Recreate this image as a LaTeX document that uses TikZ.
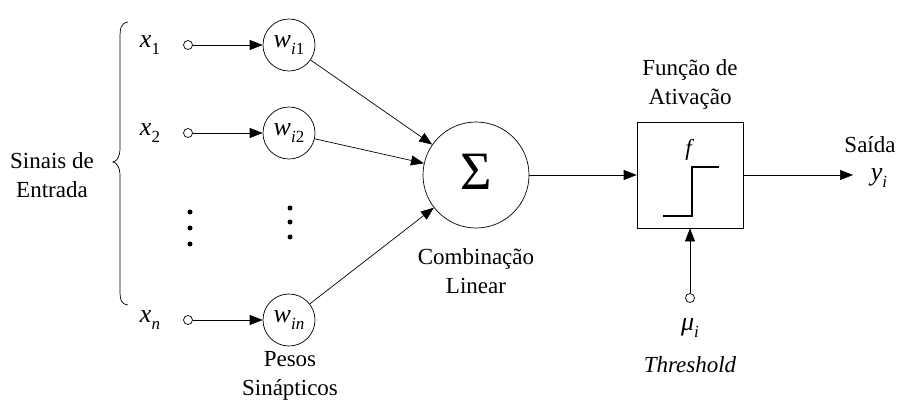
\documentclass[tikz,border=0pt]{standalone}
\usepackage{fontspec}
\setmainfont{Liberation Serif}
\usetikzlibrary{arrows.meta}
\newcommand{\vsub}[2]{{\fontsize{26}{26}\selectfont\textit{#1}}\raisebox{-0.3em}{\fontsize{17}{17}\selectfont #2}}
\begin{document}
\begin{tikzpicture}[x=1pt,y=-1pt,
  every node/.style={font=\fontsize{23}{29}\selectfont},
  conn/.style={line width=0.7pt,-{Triangle[length=13pt,width=10pt]}},
  term/.style={circle,draw,line width=0.7pt,inner sep=0pt,minimum size=9pt,fill=white},
  wnode/.style={circle,draw,line width=0.7pt,inner sep=0pt,minimum size=52pt},
  lbl/.style={align=center,inner sep=0pt},
  dot/.style={circle,fill=black,inner sep=0pt,minimum size=5pt}]
\useasboundingbox (0,0) rectangle (910,405);
% brace
\draw[line width=0.7pt] (128,22) .. controls (121,23) and (120,28) .. (120,38) -- (120,148)
  .. controls (120,157) and (117,161) .. (113,162)
  .. controls (117,163) and (120,167) .. (120,176) -- (120,290)
  .. controls (120,300) and (121,304) .. (128,305);
\node[lbl] (sinais) at (52,175) {Sinais de\\Entrada};
% inputs
\node[lbl] (lx1) at (150,45) {\vsub{x}{1}};
\node[lbl] (lx2) at (150,133) {\vsub{x}{2}};
\node[lbl] (lxn) at (150,320) {\vsub{x}{\textit{n}}};
\node[term] (t1) at (188,45) {};
\node[term] (t2) at (188,133) {};
\node[term] (tn) at (188,320) {};
\node[wnode] (w1) at (289,45) {\vsub{w}{\textit{i}1}};
\node[wnode] (w2) at (289,133) {\vsub{w}{\textit{i}2}};
\node[wnode] (wn) at (289,320) {\vsub{w}{\textit{in}}};
\draw[conn] (t1) -- (w1);
\draw[conn] (t2) -- (w2);
\draw[conn] (tn) -- (wn);
\node[dot] (d1) at (190,212) {};
\node[dot] (d2) at (190,228) {};
\node[dot] (d3) at (190,244) {};
\node[dot] (e1) at (290,208) {};
\node[dot] (e2) at (290,222) {};
\node[dot] (e3) at (290,237) {};
\node[lbl] (pesos) at (290,376) {Pesos\\Sinápticos};
% sum
\node[circle,draw,line width=0.7pt,minimum size=106pt,inner sep=0pt] (sum) at (476,175) {};
\node[inner sep=0pt,font=\fontsize{54}{54}\selectfont] (sig) at (476,172) {Σ};
\draw[conn] (w1) -- (sum);
\draw[conn] (w2) -- (sum);
\draw[conn] (wn) -- (sum);
\node[lbl] (comb) at (476,271) {Combinação\\Linear};
% activation box
\node[draw,line width=0.7pt,minimum size=106pt,inner sep=0pt] (box) at (690,175) {};
\draw[line width=1.2pt] (663,216) -- (692,216) -- (692,167) -- (719,167);
\node[lbl] (f) at (690,150) {\textit{f}};
\node[lbl] (func) at (690,84) {Função de\\Ativação};
\draw[conn] (sum) -- (box);
% threshold
\node[term] (tm) at (690,298) {};
\draw[conn] (tm) -- (box);
\node[lbl] (mu) at (690,328) {\vsub{μ}{\textit{i}}};
\node[lbl] (thr) at (690,365) {\textit{Threshold}};
% output
\coordinate (out) at (853,175);
\draw[conn] (box) -- (out);
\node[lbl] (saida) at (870,145) {Saída};
\node[lbl] (y) at (879,178) {\vsub{y}{\textit{i}}};
\end{tikzpicture}
\end{document}
